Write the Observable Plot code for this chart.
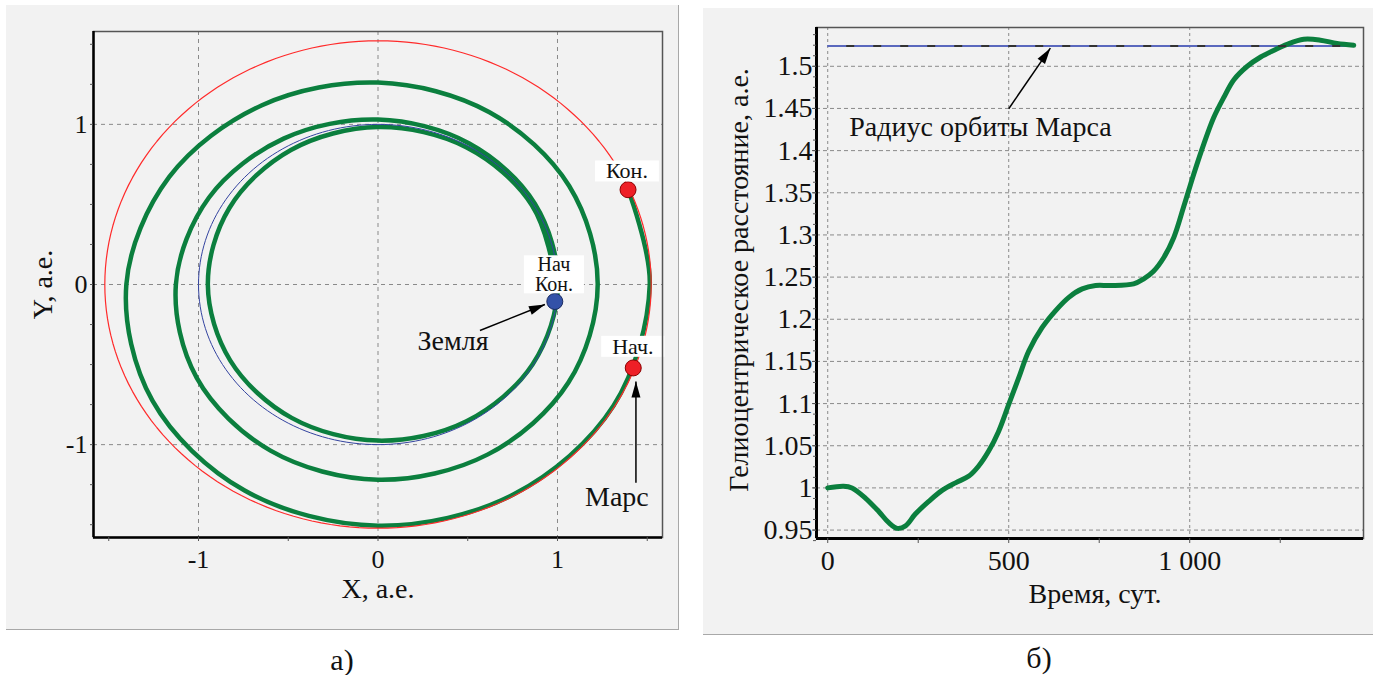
<!DOCTYPE html>
<html><head><meta charset="utf-8">
<script src="https://cdn.jsdelivr.net/npm/d3@7"></script>
<script src="https://cdn.jsdelivr.net/npm/@observablehq/plot@0.6"></script>
<style>
body{margin:0;background:#fff;width:1373px;height:675px;overflow:hidden;position:relative;font-family:"Liberation Serif",serif;color:#111;}
.panel{position:absolute;background:#f2f2f2;}
#pa{left:6px;top:5px;width:672px;height:624px;border-right:1.5px solid #a8a8a8;border-bottom:1.5px solid #a8a8a8;}
#pb{left:703px;top:8px;width:670px;height:626px;border-bottom:1.5px solid #a8a8a8;}
#left{position:absolute;left:0;top:0;}
#right{position:absolute;left:700px;top:0;}
svg text{font-family:"Liberation Serif",serif;}
.cap{position:absolute;font-size:30px;transform:translate(-50%,-50%);white-space:nowrap;}
</style></head><body>
<div class="panel" id="pa"></div><div class="panel" id="pb"></div>
<div id="left"></div><div id="right"></div>
<div class="cap" style="left:342px;top:660px">а)</div>
<div class="cap" style="left:1039px;top:658px">б)</div>
<script>
// ---------- Panel (a): trajectory, heliocentric ecliptic plane ----------
// spacecraft trajectory, polar form (cumulative angle, deg; radius, a.e.)
const spiralAngleDeg = [-6, 0, 30, 60, 90, 120, 150, 180, 210, 240, 270, 300, 330, 360, 390, 420, 450, 480, 510, 540, 570, 600, 630, 660, 690, 720, 750, 780, 810, 840, 870, 900, 930, 960, 990, 1020, 1050, 1080, 1103];
const spiralRadius   = [0.991, 0.991, 0.990, 0.988, 0.983, 0.970, 0.956, 0.948, 0.950, 0.962, 0.975, 0.986, 0.995, 1.003, 1.009, 1.017, 1.030, 1.052, 1.087, 1.126, 1.166, 1.198, 1.219, 1.225, 1.225, 1.224, 1.230, 1.242, 1.261, 1.293, 1.343, 1.402, 1.451, 1.486, 1.506, 1.513, 1.515, 1.514, 1.514];
const earthOrbitRadius = 1.0;
const marsOrbitRadius = 1.522;
// planet positions
const markerName = ["Земля", "Марс (нач.)", "Марс (кон.)"];
const markerX = [0.985, 1.422, 1.393];
const markerY = [-0.106, -0.521, 0.592];
const markerFill = ["#3352a8", "#ee1f26", "#ee1f26"];
const markerStroke = ["#1a2a60", "#8b0000", "#8b0000"];
// marker labels
const labelText = ["Нач\nКон.", "Кон.", "Нач."];
const labelX = [0.98, 1.387, 1.42];
const labelY = [0.06, 0.706, -0.389];
const labelSize = [20, 22, 22];
// annotations
const annotText = ["Земля", "Марс"];
const annotX = [0.418, 1.331];
const annotY = [-0.356, -1.325];
const arrowX1 = [0.568, 1.437], arrowY1 = [-0.2875, -1.2375];
const arrowX2 = [0.930, 1.437], arrowY2 = [-0.125, -0.606];
// axes
const gridA = [-1, 0, 1];
const xTicksA = [-1.5, -1, -0.5, 0, 0.5, 1, 1.5];
const yTicksA = [-1.5, -1.25, -1, -0.75, -0.5, -0.25, 0, 0.25, 0.5, 0.75, 1, 1.25, 1.5];

// ---------- Panel (б): heliocentric distance vs time ----------
const timeDays = [0, 44, 67, 104, 141, 168, 192, 215, 242, 279, 316, 353, 390, 417, 445, 472, 500, 528, 555, 592, 629, 666, 703, 740, 781, 845, 873, 900, 928, 956, 983, 1011, 1039, 1066, 1094, 1122, 1159, 1196, 1233, 1269, 1315, 1361, 1407, 1453];
const helioDist = [1.000, 1.002, 1.000, 0.988, 0.972, 0.959, 0.952, 0.955, 0.969, 0.984, 0.997, 1.006, 1.014, 1.026, 1.044, 1.067, 1.099, 1.131, 1.162, 1.190, 1.210, 1.226, 1.236, 1.240, 1.240, 1.242, 1.248, 1.257, 1.273, 1.297, 1.333, 1.372, 1.408, 1.439, 1.463, 1.484, 1.500, 1.511, 1.519, 1.526, 1.532, 1.531, 1.527, 1.525];
const marsRadius = 1.524;
const marsLineSpan = [0, 1455];
const xTicksB = [0, 250, 500, 750, 1000, 1250];
const xGridB = [0, 500, 1000];
const yTicksB = [0.95, 1, 1.05, 1.1, 1.15, 1.2, 1.25, 1.3, 1.35, 1.4, 1.45, 1.5];
const annotB = {text: "Радиус орбиты Марса", t: 422, r: 1.4285};
const arrowB = {t1: 500, r1: 1.4496, t2: 615, r2: 1.5215};

const GREEN = "#0b7f3e";
const FONT = "Liberation Serif";

// tables for the library
const rad = Math.PI / 180;
const spiral = spiralAngleDeg.map((a, i) => ({x: spiralRadius[i] * Math.cos(a * rad), y: spiralRadius[i] * Math.sin(a * rad)}));
const orbit = (R) => d3.range(0, 361, 2).map(a => ({x: R * Math.cos(a * rad), y: R * Math.sin(a * rad)}));
const markers = markerName.map((n, i) => ({n, x: markerX[i], y: markerY[i], fill: markerFill[i], stroke: markerStroke[i]}));
const labels = labelText.map((t, i) => ({t, x: labelX[i], y: labelY[i], s: labelSize[i]}));
const annots = annotText.map((t, i) => ({t, x: annotX[i], y: annotY[i]}));
const arrows = arrowX1.map((_, i) => ({x1: arrowX1[i], y1: arrowY1[i], x2: arrowX2[i], y2: arrowY2[i]}));
const rows = timeDays.map((t, i) => ({t, r: helioDist[i]}));

const xdA = [-1.585, 1.585], ydA = [-1.58, 1.58];
const left = Plot.plot({
  width: 690, height: 640,
  marginLeft: 93, marginRight: 28, marginTop: 31, marginBottom: 103,
  x: {domain: xdA}, y: {domain: ydA},
  style: {fontFamily: FONT, fontSize: "26px", color: "#111", background: "transparent", overflow: "visible"},
  marks: [
    Plot.gridX({ticks: gridA, stroke: "#8a8a8a", strokeOpacity: 1, strokeDasharray: "4,4"}),
    Plot.gridY({ticks: gridA, stroke: "#8a8a8a", strokeOpacity: 1, strokeDasharray: "4,4"}),
    Plot.line(spiral, {x: "x", y: "y", curve: "catmull-rom", stroke: GREEN, strokeWidth: 4.5}),
    Plot.line(orbit(earthOrbitRadius), {x: "x", y: "y", stroke: "#3444a0", strokeWidth: 1}),
    Plot.line(orbit(marsOrbitRadius), {x: "x", y: "y", stroke: "#ff2a2a", strokeWidth: 1.2}),
    Plot.link(arrows, {x1: "x1", y1: "y1", x2: "x2", y2: "y2", stroke: "#000", strokeWidth: 1.5, markerEnd: "arrow"}),
    Plot.dot(markers, {x: "x", y: "y", r: 8, fill: "fill", stroke: "stroke", strokeWidth: 1}),
    Plot.text(annots, {x: "x", y: "y", text: "t", fontSize: 28, fontFamily: FONT, fill: "#111"}),
    Plot.text(labels, {x: "x", y: "y", text: "t", fontSize: "s", lineHeight: 1, fontFamily: FONT, fill: "#111", className: "boxed"}),
    Plot.frame({stroke: "#555", strokeWidth: 1.5}),
    Plot.ruleX([xdA[0]], {stroke: "#000", strokeWidth: 2.5}),
    Plot.ruleY([ydA[0]], {stroke: "#000", strokeWidth: 2.5}),
    Plot.axisX({ticks: xTicksA, tickSize: 4, tickPadding: 8, stroke: "#555", fill: "#111", fontFamily: FONT, fontSize: 26, tickFormat: d => Number.isInteger(d) ? String(d) : ""}),
    Plot.axisY({ticks: yTicksA, tickSize: 3, tickPadding: 3, stroke: "#555", fill: "#111", fontFamily: FONT, fontSize: 26, tickFormat: d => Number.isInteger(d) ? String(d) : ""}),
    Plot.text(["X, а.е."], {text: d => d, frameAnchor: "bottom", lineAnchor: "middle", textAnchor: "middle", dy: 52, fontSize: 28, fontFamily: FONT, fill: "#111"}),
    Plot.text(["Y, а.е."], {text: d => d, frameAnchor: "left", lineAnchor: "middle", textAnchor: "middle", dx: -50, rotate: -90, fontSize: 28, fontFamily: FONT, fill: "#111"})
  ]
});

const xdB = [-31, 1480], ydB = [0.94, 1.546];
const right = Plot.plot({
  width: 673, height: 640,
  marginLeft: 116, marginRight: 10, marginTop: 27, marginBottom: 102,
  x: {domain: xdB}, y: {domain: ydB},
  style: {fontFamily: FONT, fontSize: "28px", color: "#111", background: "transparent", overflow: "visible"},
  marks: [
    Plot.gridX({ticks: xGridB, stroke: "#8a8a8a", strokeOpacity: 1, strokeDasharray: "3,3"}),
    Plot.gridY({ticks: yTicksB, stroke: "#8a8a8a", strokeOpacity: 1, strokeDasharray: "4,3"}),
    Plot.ruleY([marsRadius], {x1: marsLineSpan[0], x2: marsLineSpan[1], stroke: "#5a68bd", strokeWidth: 2}),
    Plot.line(rows, {x: "t", y: "r", curve: "catmull-rom", stroke: GREEN, strokeWidth: 5}),
    Plot.ruleY([marsRadius], {x1: marsLineSpan[0], x2: marsLineSpan[1], stroke: "#333", strokeWidth: 2, strokeDasharray: "8,19", strokeDashoffset: 8}),
    Plot.link([arrowB], {x1: "t1", y1: "r1", x2: "t2", y2: "r2", stroke: "#000", strokeWidth: 1.5, markerEnd: "arrow"}),
    Plot.text([annotB], {x: "t", y: "r", text: "text", fontSize: 28, fontFamily: FONT, fill: "#111"}),
    Plot.frame({stroke: "#555", strokeWidth: 1.5}),
    Plot.ruleX([xdB[0]], {stroke: "#000", strokeWidth: 3}),
    Plot.ruleY([ydB[0]], {stroke: "#000", strokeWidth: 3}),
    Plot.axisX({ticks: xTicksB, tickSize: 5, tickPadding: 7, stroke: "#555", fill: "#111", fontFamily: FONT, fontSize: 28, tickFormat: d => d % 500 === 0 ? (d === 1000 ? "1 000" : String(d)) : ""}),
    Plot.axisY({ticks: d3.range(0.9375, 1.546, 0.0125), tickSize: 3, stroke: "#555", tickFormat: () => ""}),
    Plot.axisY({ticks: yTicksB, tickSize: 4, tickPadding: 0, stroke: "#555", fill: "#111", fontFamily: FONT, fontSize: 28, tickFormat: d => String(+d.toFixed(2))}),
    Plot.text(["Время, сут."], {text: d => d, frameAnchor: "bottom", lineAnchor: "middle", textAnchor: "middle", dy: 56, dx: 5, fontSize: 28, fontFamily: FONT, fill: "#111"}),
    Plot.text(["Гелиоцентрическое расстояние, а.е."], {text: d => d, frameAnchor: "left", lineAnchor: "middle", textAnchor: "middle", dx: -77, dy: -3, rotate: -90, fontSize: 28, fontFamily: FONT, fill: "#111"})
  ]
});

document.getElementById("left").append(left);
document.getElementById("right").append(right);

// filled arrow heads
for (const svg of [left, right]) {
  d3.select(svg).selectAll("marker").each(function () {
    const m = d3.select(this);
    m.attr("viewBox", "-17 -6 18 12").attr("markerWidth", 18).attr("markerHeight", 12)
     .attr("markerUnits", "userSpaceOnUse").attr("fill", "#000").attr("stroke", "none");
    m.selectAll("*").remove();
    m.append("path").attr("d", "M-16,-4.5L0,0L-16,4.5Z");
  });
}
// white boxes behind the marker labels
d3.select(left).selectAll("g.boxed text").each(function () {
  const b = this.getBBox();
  const r = document.createElementNS("http://www.w3.org/2000/svg", "rect");
  const px = 11, py = -2;
  r.setAttribute("x", b.x - px); r.setAttribute("y", b.y - py);
  r.setAttribute("width", b.width + 2 * px); r.setAttribute("height", b.height + 2 * py);
  r.setAttribute("fill", "#fff");
  if (this.getAttribute("transform")) r.setAttribute("transform", this.getAttribute("transform"));
  this.parentNode.insertBefore(r, this);
});
</script>
</body></html>
